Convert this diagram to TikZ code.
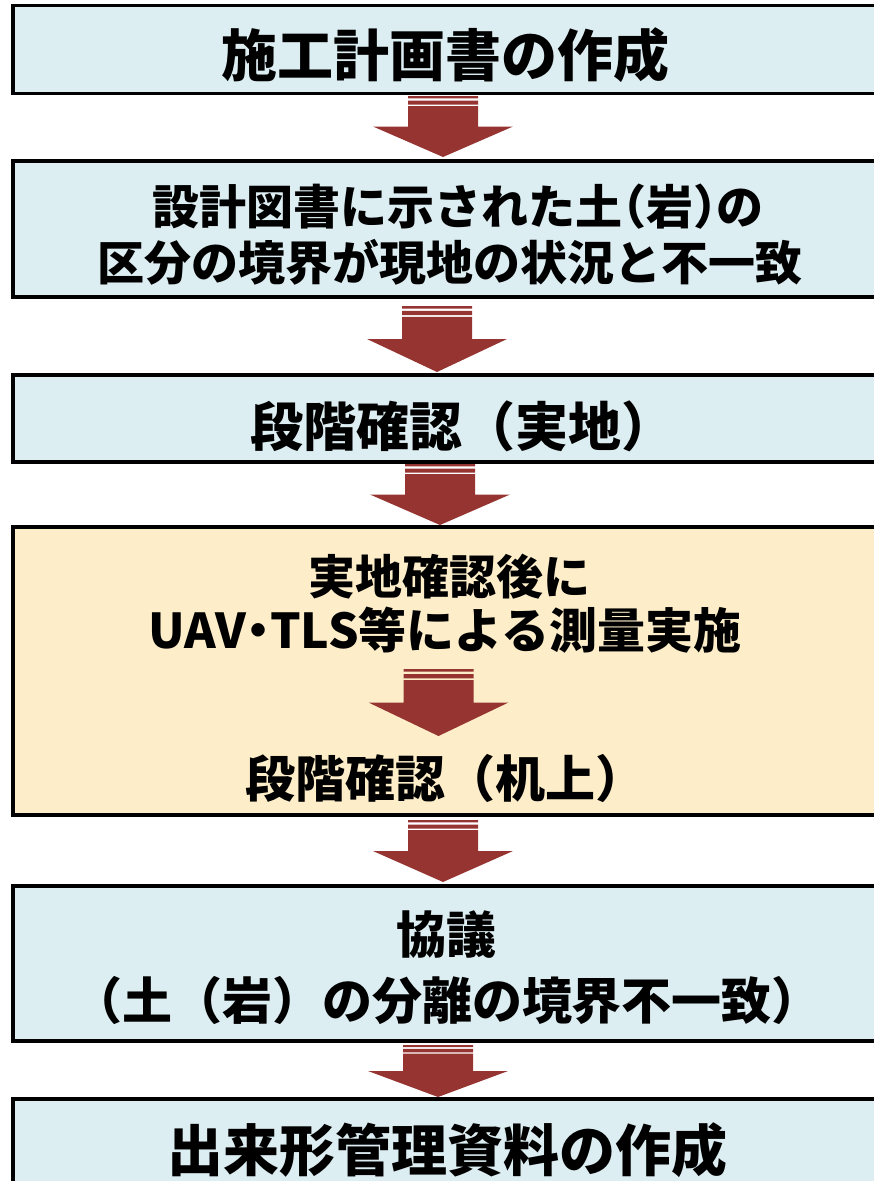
\documentclass[tikz,border=0pt]{standalone}
\usepackage{fontspec}
\setmainfont{Noto Sans CJK JP}
\usetikzlibrary{calc}
\definecolor{boxblue}{RGB}{221,238,243}
\definecolor{boxyellow}{RGB}{253,238,201}
\definecolor{arrowred}{RGB}{150,52,50}
\newcommand\hw[1]{{\addfontfeature{RawFeature=+halt}#1}}
\tikzset{
  stepbox/.style={draw=black, line width=3.5pt, inner sep=0pt, outer sep=0pt, anchor=north west, minimum width=869pt},
  lbl/.style={inner sep=0pt, anchor=center, text=black},
  big/.style={font=\fontsize{56}{60}\selectfont\bfseries},
  mid/.style={font=\fontsize{47}{50}\selectfont\bfseries},
}
\newcommand\blockarrow[2]{%
  \fill[arrowred] let \p1=(#1), \p2=(#2), \n1={\y1-\y2} in
    ({\x1-35pt},\y1) rectangle ({\x1+35pt},{\y1-0.04*\n1})
    ({\x1-35pt},{\y1-0.075*\n1}) rectangle ({\x1+35pt},{\y1-0.14*\n1})
    ({\x1-35pt},{\y1-0.165*\n1}) -- ({\x1+35pt},{\y1-0.165*\n1}) -- ({\x1+35pt},{\y1-0.5*\n1})
    -- ({\x1+70pt},{\y1-0.5*\n1}) -- (\x1,\y2) -- ({\x1-70pt},{\y1-0.5*\n1})
    -- ({\x1-35pt},{\y1-0.5*\n1}) -- cycle;
}
\begin{document}
\begin{tikzpicture}[x=1pt, y=-1pt]
\useasboundingbox (0,0) rectangle (874,1181);
\clip (0,0) rectangle (874,1181);
\fill[white] (0,0) rectangle (874,1181);
% boxes
\node[stepbox, fill=boxblue, minimum height=88pt] (b1) at (13,5.5) {};
\node[stepbox, fill=boxblue, minimum height=136pt] (b2) at (13,161) {};
\node[stepbox, fill=boxblue, minimum height=87pt] (b3) at (13,375) {};
\node[stepbox, fill=boxyellow, minimum height=288pt] (b4) at (13,527) {};
\node[stepbox, fill=boxblue, minimum height=155pt] (b5) at (13,886) {};
\node[stepbox, fill=boxblue, minimum height=140pt] (b6) at (13,1099) {};
% texts
\node[lbl, big] (t1) at (445,55) {施工計画書の作成};
\node[lbl, mid] (t2a) at (458,207) {設計図書に示された土\hw{（}岩\hw{）}の};
\node[lbl, mid] (t2b) at (450,262) {区分の境界が現地の状況と不一致};
\node[lbl, font=\fontsize{53}{57}\selectfont\bfseries] (t3) at (462,426) {段階確認（実地）};
\node[lbl, mid] (t4a) at (449,577) {実地確認後に};
\node[lbl, font=\fontsize{48}{52}\selectfont\bfseries] (t4b) at (445,630) {UAV\hw{・}TLS等による測量実施};
\node[lbl, font=\fontsize{50}{54}\selectfont\bfseries] (t4c) at (445,778) {段階確認（机上）};
\node[lbl, font=\fontsize{50}{54}\selectfont\bfseries] (t5a) at (446,935) {協議};
\node[lbl, font=\fontsize{50}{54}\selectfont\bfseries] (t5b) at (447,1000) {（土（岩）の分離の境界不一致）};
\node[lbl, big] (t6) at (447,1150) {出来形管理資料の作成};
% arrow anchors
\coordinate (a1s) at (443,96);   \coordinate (a1e) at (443,157);
\coordinate (a2s) at (437,306);  \coordinate (a2e) at (437,372);
\coordinate (a3s) at (440,464);  \coordinate (a3e) at (440,525);
\coordinate (a4s) at (438.5,669); \coordinate (a4e) at (438.5,736);
\coordinate (a5s) at (443,820);  \coordinate (a5e) at (443,882);
\coordinate (a6s) at (438,1045); \coordinate (a6e) at (438,1097);
\blockarrow{a1s}{a1e}
\blockarrow{a2s}{a2e}
\blockarrow{a3s}{a3e}
\blockarrow{a4s}{a4e}
\blockarrow{a5s}{a5e}
\blockarrow{a6s}{a6e}
\end{tikzpicture}
\end{document}
